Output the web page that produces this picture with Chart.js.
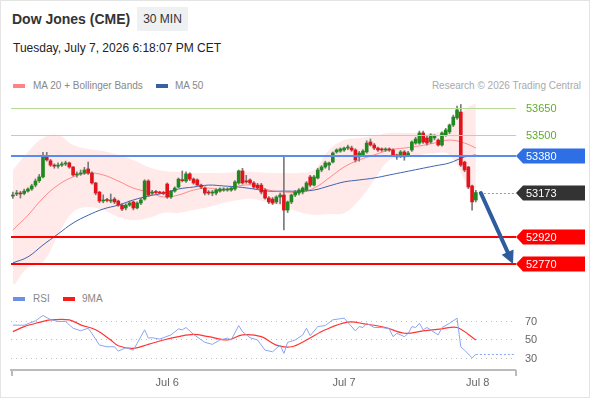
<!DOCTYPE html>
<html><head><meta charset="utf-8">
<script src="https://cdn.jsdelivr.net/npm/chart.js@4.4.1/dist/chart.umd.min.js"></script>
<style>
body{margin:0;background:#fff;font-family:"Liberation Sans",Arial,sans-serif;}
#wrap{position:relative;width:590px;height:400px;overflow:hidden;background:#fff}
#frame{position:absolute;left:0;top:0;width:588px;height:396px;border:1px solid #e4e4e4;pointer-events:none}
.t{position:absolute;white-space:nowrap}
#title{left:12px;top:10px;font-weight:bold;font-size:14px;color:#333;line-height:18px}
#tf{left:137px;top:7px;width:51px;height:24px;line-height:24px;background:#eef0f2;text-align:center;font-size:12px;color:#333}
#date{left:13px;top:40px;font-size:12px;color:#222;line-height:16px}
.leg{font-size:10px;color:#888;line-height:14px}
.sw{position:absolute;width:12px;height:4px}
#credit{right:9px;top:79px;font-size:10px;color:#aaa;line-height:14px}
canvas{position:absolute;left:0}
</style></head><body>
<div id="wrap">
  <div class="t" id="title">Dow Jones (CME)</div>
  <div class="t" id="tf">30 MIN</div>
  <div class="t" id="date">Tuesday, July 7, 2026 6:18:07 PM CET</div>
  <div class="sw" style="left:13px;top:84px;background:#ff8585"></div>
  <div class="t leg" style="left:33px;top:79px">MA 20 + Bollinger Bands</div>
  <div class="sw" style="left:156px;top:84px;background:#3a5fa3"></div>
  <div class="t leg" style="left:175px;top:79px">MA 50</div>
  <div class="t" id="credit">Research © 2026 Trading Central</div>
  <canvas id="main" width="590" height="200" style="top:90px"></canvas>
  <div class="sw" style="left:13px;top:297px;background:#6e8fe6"></div>
  <div class="t leg" style="left:33px;top:292px">RSI</div>
  <div class="sw" style="left:63px;top:297px;background:#ff1a1a"></div>
  <div class="t leg" style="left:82px;top:292px">9MA</div>
  <canvas id="rsi" width="590" height="100" style="top:295px"></canvas>
  <div id="frame"></div>
</div>
<script>
// ---- data (30-min candles) ----
const opens = [53153,53165,53170,53168,53181,53193,53215,53240,53261,53380,53352,53328,53322,53328,53334,53340,53317,53272,53278,53283,53306,53283,53227,53175,53125,53131,53125,53136,53125,53102,53086,53102,53120,53086,53114,53136,53238,53170,53176,53176,53170,53221,53148,53181,53204,53244,53238,53278,53249,53244,53215,53198,53176,53170,53170,53181,53187,53187,53187,53193,53227,53295,53238,53244,53227,53215,53215,53187,53142,53136,53120,53148,53159,53074,53120,53159,53170,53176,53187,53261,53215,53255,53300,53317,53328,53345,53402,53407,53413,53424,53424,53413,53374,53385,53402,53458,53441,53424,53419,53413,53419,53413,53385,53379,53402,53385,53413,53452,53452,53509,53481,53458,53481,53469,53441,53498,53515,53554,53594,53627,53345,53317,53210,53131];
const highs = [53175,53185,53180,53192,53200,53220,53250,53275,53400,53400,53360,53335,53340,53345,53350,53345,53320,53290,53300,53315,53345,53290,53230,53180,53160,53140,53165,53145,53130,53110,53110,53125,53125,53120,53140,53245,53245,53185,53185,53180,53180,53227,53185,53205,53255,53295,53290,53285,53255,53250,53220,53205,53185,53185,53195,53200,53200,53200,53205,53240,53300,53310,53270,53250,53235,53225,53225,53195,53150,53145,53155,53170,53379,53125,53165,53185,53195,53205,53235,53270,53270,53310,53325,53350,53345,53402,53420,53425,53430,53440,53435,53420,53405,53415,53465,53475,53450,53430,53425,53425,53425,53420,53390,53410,53410,53405,53465,53485,53520,53520,53490,53505,53500,53475,53515,53535,53560,53610,53660,53670,53350,53320,53215,53185];
const lows = [53140,53155,53142,53160,53175,53185,53205,53230,53255,53350,53320,53310,53310,53320,53325,53310,53265,53260,53270,53275,53275,53220,53160,53115,53115,53120,53115,53110,53095,53070,53075,53095,53075,53080,53105,53130,53150,53160,53165,53165,53160,53140,53140,53175,53200,53233,53230,53240,53220,53210,53195,53160,53160,53155,53160,53175,53180,53180,53180,53185,53220,53220,53225,53220,53195,53190,53165,53135,53110,53105,53110,53110,52962,53060,53110,53150,53160,53165,53180,53205,53210,53250,53290,53310,53300,53340,53395,53400,53405,53415,53405,53345,53350,53375,53395,53435,53415,53405,53405,53405,53405,53380,53360,53370,53355,53375,53405,53445,53445,53450,53440,53450,53470,53435,53435,53490,53505,53545,53585,53320,53290,53195,53074,53120];
const closes = [53159,53170,53165,53181,53193,53210,53238,53261,53379,53357,53328,53322,53328,53334,53340,53317,53272,53278,53283,53300,53283,53227,53170,53125,53131,53128,53131,53120,53102,53080,53102,53114,53086,53114,53131,53238,53159,53176,53173,53170,53168,53148,53181,53198,53249,53240,53278,53249,53227,53215,53204,53170,53170,53176,53187,53193,53193,53193,53198,53233,53295,53227,53233,53227,53204,53198,53176,53142,53120,53114,53148,53159,53074,53120,53159,53176,53187,53198,53227,53215,53261,53300,53317,53340,53340,53396,53413,53419,53424,53430,53413,53357,53396,53407,53452,53441,53424,53413,53413,53419,53413,53385,53374,53402,53374,53396,53458,53475,53509,53458,53452,53498,53492,53441,53509,53526,53554,53599,53639,53328,53300,53204,53120,53173];

// indicator lines, read at every 4th candle
const lineIdx = [0,4,8,12,16,20,24,28,32,36,40,44,48,52,56,60,64,68,72,76,80,84,88,92,96,100,104,108,112,116,120,123];
const bbUpper = [53300,53402,53481,53498,53441,53419,53407,53385,53357,53317,53295,53289,53283,53283,53283,53289,53289,53283,53283,53283,53300,53413,53469,53481,53492,53509,53509,53509,53509,53537,53639,53678];
const bbLower = [52640,52748,52781,52934,53063,53091,53074,53035,53018,53029,53058,53058,53074,53091,53114,53131,53136,53114,53097,53063,53047,53052,53058,53131,53244,53357,53374,53385,53396,53385,53244,53102];
const ma20 = [52962,53045,53142,53215,53261,53283,53272,53238,53198,53176,53148,53159,53187,53198,53187,53210,53215,53187,53176,53176,53198,53255,53317,53357,53385,53413,53424,53436,53452,53469,53452,53424];
const ma50 = [52776,52810,52877,52939,53001,53045,53080,53102,53131,53153,53170,53193,53204,53215,53210,53204,53193,53181,53181,53181,53187,53210,53233,53244,53255,53272,53289,53306,53323,53340,53374,53385];

// RSI panel
const rsiIdx = [0,3,6,8,10,12,14,16,18,20,21,23,25,27,28,30,32,33,35,36,37,39,42,44,45,46,48,51,53,55,57,58,60,61,63,65,67,69,70,71,72,73,75,77,78,79,81,83,85,87,88,91,92,93,94,96,98,100,101,102,104,105,106,107,108,109,110,113,114,116,118,119,120,122,123];
const rsiVal = [66,66,70.7,76.5,72,70,70,62.7,60,62.7,57,44.5,42.7,42.7,38,41.6,39,46.4,61,52,52.5,51,55.5,62,61,63.5,56,47.5,45.3,50,52,50,65.6,59,52.5,50,39,37.3,41,44.5,35.5,47.5,50,55.5,62.7,54.7,64.5,65.6,71.8,73,73.6,59.8,64.5,63.5,68,63.5,63.5,62,53.6,57.3,53.6,57,64.5,63.5,68,61,63.5,55.5,63.5,68,73.6,42.7,39,30.7,34.4];
const rsi9Idx = [0,3,7,10,15,18,22,26,28,32,36,40,44,48,52,57,61,66,70,74,78,83,89,94,99,104,109,114,118,123];
const rsi9Val = [59,64.5,69,71.8,71.8,66.4,61,50,43.8,41,45.3,50,53.6,56,53.6,50,55.5,53.6,44.5,42.7,50,61,69.3,67,63.5,57.3,59.8,62,63.5,50];
const rsiTicks = [30,50,70];

// levels
const levelValues = [53650,53500,53380,52920,52770];
const levelKinds = ['res','res','pivot','sup','sup'];
const targetLevel = 52770;

// axes
const tickPositions = [41,88,123.5];
const tickLabels = ['Jul 6','Jul 7','Jul 8'];
const xRange = [-0.5,133.4];
const priceRange = [52657,53695];
const rsiRange = [17.6,87.8];

// ---- build ----
const FONT = '"Liberation Sans", Arial, sans-serif';
Chart.defaults.font.family = FONT;
const pts = (xs, ys) => xs.map((v,i)=>({x:v,y:ys[i]}));
const idx = closes.map((_,i)=>i);
const bodyData = idx.map(i=>({x:i,y:[opens[i],closes[i]]}));
const wickData = idx.map(i=>({x:i,y:[lows[i],highs[i]]}));
const bodyColors = idx.map(i=>closes[i]>=opens[i]?'#1e8a1e':'#e3121b');
const lastClose = closes[closes.length-1];

function tag(ctx,x0,yc,text,fill){
  const h=15,w=69,tip=7;
  ctx.beginPath();
  ctx.moveTo(x0,yc);ctx.lineTo(x0+tip,yc-h/2);ctx.lineTo(x0+w,yc-h/2);
  ctx.lineTo(x0+w,yc+h/2);ctx.lineTo(x0+tip,yc+h/2);ctx.closePath();
  ctx.fillStyle=fill;ctx.fill();
  ctx.fillStyle='#fff';ctx.font='11px '+FONT;ctx.textBaseline='middle';ctx.textAlign='left';
  ctx.fillText(text,x0+10,yc+0.5);
}

const levelsPlugin = {id:'levels', afterDatasetsDraw(chart){
  const {ctx,chartArea:a,scales:{x,y}} = chart;
  ctx.save();
  levelValues.forEach((v,k)=>{
    const kind=levelKinds[k];
    const py=Math.round(y.getPixelForValue(v));
    ctx.beginPath();
    ctx.strokeStyle = kind==='res'?'#b6da96':(kind==='pivot'?'#5a8cee':'#ff0000');
    ctx.lineWidth = kind==='res'?1:2;
    const off = kind==='res'?0.5:0;
    ctx.moveTo(a.left,py+off);ctx.lineTo(a.right+1,py+off);ctx.stroke();
    if(kind==='res'){
      ctx.fillStyle='#5fae27';ctx.font='11px '+FONT;ctx.textBaseline='middle';ctx.textAlign='left';
      ctx.fillText(String(v),a.right+11,py+0.5);
    } else {
      tag(ctx,a.right+1,py,String(v),kind==='pivot'?'#2f6fe6':'#ff0000');
    }
  });
  // last price
  const lx=x.getPixelForValue(closes.length-1)+4, ly=Math.round(y.getPixelForValue(lastClose));
  ctx.beginPath();ctx.setLineDash([2,2]);ctx.strokeStyle='#999';ctx.lineWidth=1;
  ctx.moveTo(lx,ly+0.5);ctx.lineTo(a.right+1,ly+0.5);ctx.stroke();ctx.setLineDash([]);
  tag(ctx,a.right+1,ly,String(lastClose),'#333333');
  // arrow to target
  const sx=lx+1, sy=ly, ex=a.right-2, ey=y.getPixelForValue(targetLevel);
  const ang=Math.atan2(ey-sy,ex-sx), hl=13, hw=6.5;
  const bx=ex-hl*Math.cos(ang), by=ey-hl*Math.sin(ang);
  ctx.beginPath();ctx.strokeStyle='#2d5c9f';ctx.lineWidth=4;ctx.lineCap='round';
  ctx.moveTo(sx,sy);ctx.lineTo(bx+2*Math.cos(ang),by+2*Math.sin(ang));ctx.stroke();
  ctx.beginPath();ctx.fillStyle='#2d5c9f';
  ctx.moveTo(ex,ey);
  ctx.lineTo(bx+hw*Math.sin(ang),by-hw*Math.cos(ang));
  ctx.lineTo(bx-hw*Math.sin(ang),by+hw*Math.cos(ang));
  ctx.closePath();ctx.fill();
  ctx.restore();
}};

new Chart(document.getElementById('main'),{
  type:'bar',
  data:{datasets:[
    {type:'bar',data:bodyData,backgroundColor:bodyColors,barThickness:3,grouped:false,order:0,minBarLength:1},
    {type:'bar',data:wickData,backgroundColor:'#7a7a7a',barThickness:1,grouped:false,order:1},
    {type:'line',data:pts(lineIdx,ma20),borderColor:'rgba(255,105,105,0.75)',borderWidth:1,pointRadius:0,tension:0.4,order:2},
    {type:'line',data:pts(lineIdx,ma50),borderColor:'#3d63ae',borderWidth:1,pointRadius:0,tension:0.4,order:2},
    {type:'line',data:pts(lineIdx,bbUpper),borderWidth:0,borderColor:'rgba(0,0,0,0)',pointRadius:0,tension:0.4,fill:'+1',backgroundColor:'rgba(255,120,120,0.16)',order:3},
    {type:'line',data:pts(lineIdx,bbLower),borderWidth:0,borderColor:'rgba(0,0,0,0)',pointRadius:0,tension:0.4,order:4}
  ]},
  options:{
    responsive:false,animation:false,events:[],
    layout:{padding:{left:11,right:75,top:10,bottom:6}},
    plugins:{legend:{display:false},tooltip:{enabled:false}},
    scales:{
      x:{type:'linear',min:xRange[0],max:xRange[1],display:false,offset:false},
      y:{type:'linear',min:priceRange[0],max:priceRange[1],display:false}
    }
  },
  plugins:[levelsPlugin]
});

const axisEnds = {id:'axisEnds', afterDraw(chart){
  const {ctx,chartArea:a}=chart;
  ctx.save();ctx.strokeStyle='#bbbbbb';ctx.lineWidth=2;
  ctx.beginPath();
  ctx.moveTo(a.left+1,a.bottom);ctx.lineTo(a.left+1,a.bottom+6);
  ctx.moveTo(a.right+1,a.bottom);ctx.lineTo(a.right+1,a.bottom+6);
  ctx.stroke();ctx.restore();
}};

const lastR = rsiIdx.length-1;
new Chart(document.getElementById('rsi'),{
  type:'line',
  data:{datasets:[
    {data:pts(rsiIdx,rsiVal),borderColor:'#8aa6ef',borderWidth:1,pointRadius:0,tension:0},
    {data:pts(rsi9Idx,rsi9Val),borderColor:'#ff3535',borderWidth:1.2,pointRadius:0,tension:0.35},
    {data:[{x:rsiIdx[lastR],y:rsiVal[lastR]},{x:xRange[1],y:rsiVal[lastR]}],borderColor:'#8aa6ef',borderWidth:1,borderDash:[2,2],pointRadius:0}
  ]},
  options:{
    responsive:false,animation:false,events:[],
    layout:{padding:{left:11,top:10,right:0,bottom:0}},
    plugins:{legend:{display:false},tooltip:{enabled:false}},
    scales:{
      x:{type:'linear',min:xRange[0],max:xRange[1],offset:false,
         grid:{display:false,drawTicks:false},
         border:{display:true,color:'#bbbbbb',width:2},
         ticks:{font:{size:11},color:'#666',padding:6,maxRotation:0,autoSkip:false,
                callback:(v)=>tickLabels[tickPositions.indexOf(v)]},
         afterBuildTicks:s=>{s.ticks=tickPositions.map(v=>({value:v}));},
         afterFit:s=>{s.height=25;s.paddingLeft=0;s.paddingRight=0;}},
      y:{position:'right',min:rsiRange[0],max:rsiRange[1],
         grid:{color:'#bdbdbd',drawTicks:false,lineWidth:1},
         border:{display:false,dash:[1,4]},
         ticks:{font:{size:11},color:'#666',padding:10},
         afterBuildTicks:s=>{s.ticks=rsiTicks.map(v=>({value:v}));},
         afterFit:s=>{s.width=75;s.paddingTop=0;s.paddingBottom=0;}}
    }
  },
  plugins:[axisEnds]
});
</script>
</body></html>
